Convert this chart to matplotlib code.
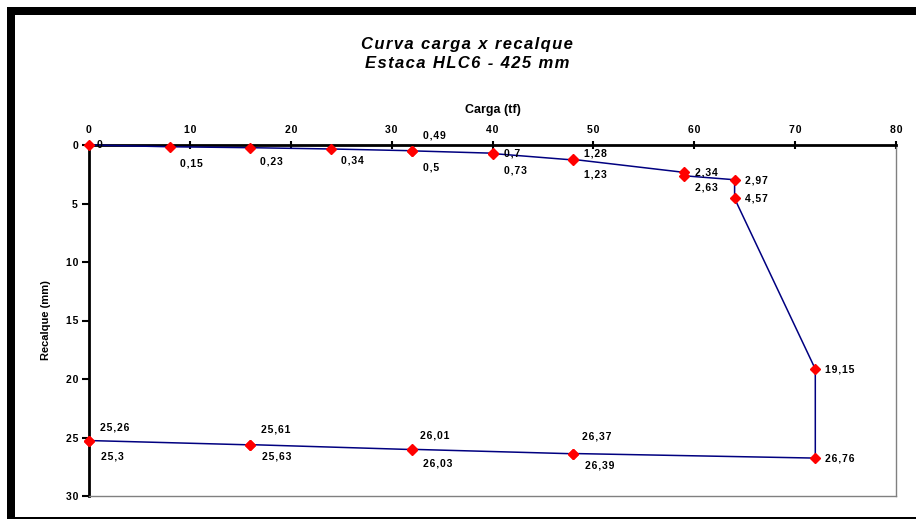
import matplotlib
matplotlib.use("Agg")
import matplotlib.pyplot as plt
from matplotlib.patches import Rectangle
from matplotlib.ticker import FuncFormatter

# Load test readings: load (tf) and settlement (mm), in test order
carga = [0, 8, 16, 24, 32, 32, 40, 40, 48, 48, 59, 59, 64, 64, 72, 72,
         48, 48, 32, 32, 16, 16, 0, 0]
recalque = [0, 0.15, 0.23, 0.34, 0.49, 0.5, 0.7, 0.73, 1.28, 1.23, 2.34, 2.63,
            2.97, 4.57, 19.15, 26.76, 26.37, 26.39, 26.01, 26.03, 25.61, 25.63,
            25.26, 25.3]

x_ticks = [0, 10, 20, 30, 40, 50, 60, 70, 80]
y_ticks = [0, 5, 10, 15, 20, 25, 30]

# Label placement (pixel offsets from each point: right, down)
label_offsets = [(8, 0), (10, 17), (10, 14), (10, 12), (11, -15), (11, 17),
                 (11, 0), (11, 17), (11, -6), (11, 15), (11, 0), (11, 12),
                 (10, 1), (10, 0), (10, 0), (10, 0), (9, -17), (12, 12),
                 (8, -14), (11, 14), (11, -15), (12, 12), (11, -13), (12, 15)]

W, H = 916, 519
fig = plt.figure(figsize=(W / 100, H / 100), dpi=100)
fig.patch.set_facecolor("white")

FONT = ["Liberation Sans", "DejaVu Sans"]
HAIR = "\u200a"


def spaced(s, sep=HAIR):
    """Open up letter spacing by putting a hair space between characters."""
    return sep.join(s)


# Outer black frame (top and left bands, thin bottom line)
fig.add_artist(Rectangle((7 / W, 1 - 15 / H), 1 - 7 / W, 8 / H,
                         transform=fig.transFigure, color="black", lw=0))
fig.add_artist(Rectangle((7 / W, 0), 8 / W, 1 - 7 / H,
                         transform=fig.transFigure, color="black", lw=0))
fig.add_artist(Rectangle((7 / W, 1 - 519 / H), 1 - 7 / W, 2.5 / H,
                         transform=fig.transFigure, color="black", lw=0))

x0, x1, y0, y1 = 89, 896, 145, 496
ax = fig.add_axes([x0 / W, 1 - y1 / H, (x1 - x0) / W, (y1 - y0) / H])

ax.plot(carga, recalque, color="#000080", lw=1.1, marker="D",
        markersize=5.5, markerfacecolor="#ff0000", markeredgecolor="#ff0000",
        zorder=3, clip_on=False)

for xv, yv, (dx, dy) in zip(carga, recalque, label_offsets):
    txt = spaced(f"{yv:g}".replace(".", ","))
    ax.annotate(txt, (xv, yv), xytext=(dx * 0.72, -dy * 0.72),
                textcoords="offset points", ha="left", va="center",
                fontsize=7.5, fontweight="bold", family=FONT, color="black")

ax.set_xlim(0, 80)
ax.set_ylim(30, 0)
ax.set_xticks(x_ticks)
ax.set_yticks(y_ticks)
tick_fmt = FuncFormatter(lambda v, pos: spaced(f"{v:g}"))
ax.xaxis.set_major_formatter(tick_fmt)
ax.yaxis.set_major_formatter(tick_fmt)
ax.xaxis.tick_top()
ax.xaxis.set_label_position("top")
ax.tick_params(axis="x", direction="inout", length=6, width=1.5, pad=4,
               labelsize=7.5)
ax.tick_params(axis="y", direction="out", length=5, width=1.5, pad=3,
               labelsize=7.5)
for lab in ax.get_xticklabels() + ax.get_yticklabels():
    lab.set_fontweight("bold")
    lab.set_family(FONT)

ax.spines["top"].set_linewidth(2)
ax.spines["left"].set_linewidth(2)
ax.spines["top"].set_color("black")
ax.spines["left"].set_color("black")
ax.spines["right"].set_color("#808080")
ax.spines["bottom"].set_color("#808080")
ax.spines["right"].set_linewidth(1)
ax.spines["bottom"].set_linewidth(1)

ax.set_xlabel("Carga (tf)", fontsize=9, fontweight="bold", family=FONT,
              labelpad=9)
fig.text(46 / W, 1 - 320 / H, "Recalque (mm)", rotation=90, ha="center",
         va="center", fontsize=8, fontweight="bold", family=FONT)

fig.text(467 / W, 1 - 44 / H, spaced("Curva carga x recalque"), ha="center",
         va="center", fontsize=12, fontweight="bold", style="italic",
         family=FONT)
fig.text(467 / W, 1 - 63 / H, spaced("Estaca HLC6 - 425 mm"), ha="center",
         va="center", fontsize=12, fontweight="bold", style="italic",
         family=FONT)

fig.savefig("out.png", dpi=100, facecolor="white")
